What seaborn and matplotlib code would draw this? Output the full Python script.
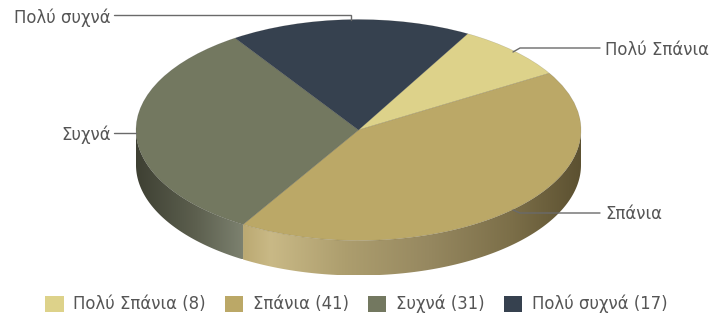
import numpy as np
import matplotlib
matplotlib.use("Agg")
import matplotlib.pyplot as plt
import seaborn as sns
from matplotlib.patches import Polygon, Patch
from matplotlib.colors import LinearSegmentedColormap

# ---- data ----
categories = ["Πολύ Σπάνια", "Σπάνια", "Συχνά", "Πολύ συχνά"]
counts = [8, 41, 31, 17]
legend_labels = [f"{c} ({n})" for c, n in zip(categories, counts)]

# ---- styling ----
top_colors = ["#ddd28a", "#bba867", "#737860", "#36414f"]
# side-wall shading, (position, colour) from the wall's left end to its right end
wall_shades = [
    [(0.0, "#a89e5e"), (1.0, "#6f6838")],
    [(0.0, "#bba972"), (0.08, "#c9b986"), (0.3, "#ad9e6e"),
     (0.55, "#968860"), (0.8, "#7b6e48"), (1.0, "#5c5131")],
    [(0.0, "#3e4033"), (0.55, "#5c5f4e"), (1.0, "#7d8270")],
    [(0.0, "#1e252e"), (1.0, "#36414f")],
]
text_color = "#555555"
line_color = "#6a6a6a"

sns.set_theme(style="white")
plt.rcParams["font.family"] = ["DejaVu Sans"]
FS = 11.9

W, H = 713, 320
CX, CY = 358.5, 130.0      # centre of the top face (pixels from top-left)
RX, RY = 222.5, 110.5      # radii of the top face
DEPTH = 35.0               # thickness of the disc
S = RY / RX                # vertical squash of the tilted disc


def to_data(px, py):
    return px, (H - py) / S


fig = plt.figure(figsize=(W / 100, H / 100), dpi=100)
ax = fig.add_axes([0, 0, 1, 1])

cx, cy = to_data(CX, CY)
depth = DEPTH / S

wedges, _ = ax.pie(
    counts,
    colors=sns.color_palette(top_colors),
    startangle=60.6,
    counterclock=False,
    radius=RX,
    center=(cx, cy),
    frame=True,
    wedgeprops=dict(linewidth=0.4, edgecolor=(0, 0, 0, 0.15), zorder=3),
)

# ---- side walls of the front half ----
for wedge, shade in zip(wedges, wall_shades):
    a, b = wedge.theta1, wedge.theta2
    for k in (-720, -360, 0, 360):
        lo, hi = max(a + k, -180.0), min(b + k, 0.0)
        if hi <= lo:
            continue
        t = np.radians(np.linspace(lo, hi, 120))
        xs = cx + RX * np.cos(t)
        ys = cy + RX * np.sin(t)
        pts = np.vstack([np.column_stack([xs, ys]),
                         np.column_stack([xs[::-1], ys[::-1] - depth])])
        poly = Polygon(pts, closed=True, facecolor="none", edgecolor="none")
        ax.add_patch(poly)
        cmap = LinearSegmentedColormap.from_list("wall", shade)
        grad = cmap(np.linspace(0, 1, 256))[None, :, :]
        im = ax.imshow(grad, extent=(xs.min(), xs.max(), ys.min() - depth, ys.max()),
                       aspect="auto", interpolation="bilinear", zorder=1)
        im.set_clip_path(poly)

# ---- leader lines and slice labels ----
leaders = [
    ([(513, 52), (520, 48), (600, 48)], (605, 55), "left"),
    ([(513, 210), (520, 213), (600, 213)], (605, 219), "left"),
    ([(114, 133), (136, 133)], (111, 140), "right"),
    ([(114, 15), (351, 15), (351, 20)], (111, 23), "right"),
]
for (path, (tx, ty), ha), label in zip(leaders, categories):
    xs, ys = zip(*[to_data(px, py) for px, py in path])
    ax.plot(xs, ys, color=line_color, lw=1.0, zorder=4, solid_joinstyle="miter")
    ax.text(*to_data(tx, ty), label, ha=ha, va="baseline",
            fontsize=FS, color=text_color, zorder=5)

ax.set_aspect("auto")
ax.set_xlim(0, W)
ax.set_ylim(0, H / S)
ax.axis("off")

handles = [Patch(facecolor=c, edgecolor="none") for c in top_colors]
fig.legend(handles, legend_labels, loc="center", bbox_to_anchor=(0.5, 1 - 304 / H),
           ncol=4, frameon=False, fontsize=FS, labelcolor=text_color,
           handlelength=1.1, handleheight=1.1, handletextpad=0.6,
           columnspacing=1.15, borderaxespad=0)

fig.savefig("out.png", dpi=100, facecolor="white")
